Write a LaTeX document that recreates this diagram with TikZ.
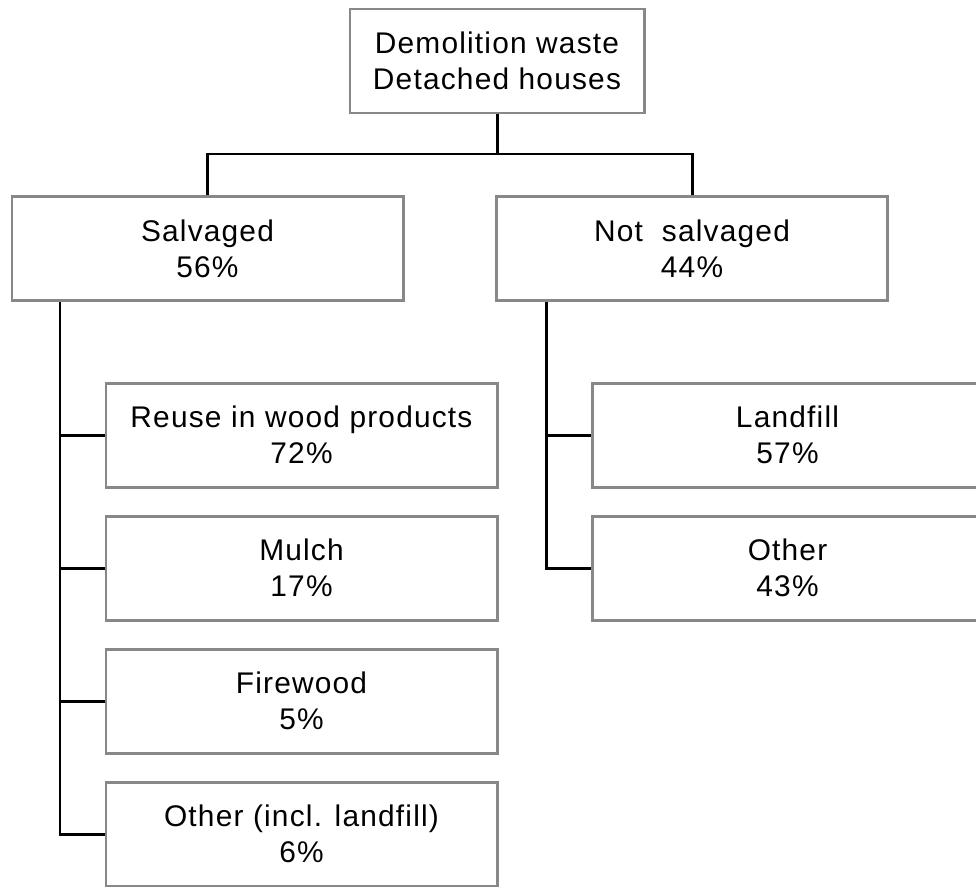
\documentclass[tikz,border=0pt]{standalone}
\usepackage{fontspec}
\setmainfont{Liberation Sans}[LetterSpace=4]
\definecolor{BoxGray}{RGB}{136,136,136}
\usetikzlibrary{positioning}

\begin{document}
\begin{tikzpicture}[
	box/.style={draw=BoxGray, line width=1.7pt, fill=white, minimum width=7.82cm, minimum height=2.08cm, inner sep=0pt, align=center, font=\fontsize{17}{20.5}\selectfont},
	conn/.style={line width=1.7pt}]
	\useasboundingbox (0,0) rectangle (19.52,-17.72);
	\node[box, minimum width=5.88cm] (top) at (9.94,-1.22) {Demolition waste\\Detached houses};
	\node[box] (salv) at (4.15,-4.97) {Salvaged\\56\%};
	\node[box] (nsalv) at (13.84,-4.97) {Not\ \ salvaged\\44\%};
	\foreach \i/\lab in {1/{Reuse in wood products\\72\%}, 2/{Mulch\\17\%}, 3/{Firewood\\5\%}, 4/{Other (incl. landfill)\\6\%}}{
		\node[box] (s\i) at (6.03,{-8.7-2.66*(\i-1)}) {\lab};
	}
	\foreach \i/\lab in {1/{Landfill\\57\%}, 2/{Other\\43\%}}{
		\node[box] (n\i) at (15.75,{-8.7-2.66*(\i-1)}) {\lab};
	}
	% tree lines
	\coordinate (split) at (9.94,-3.08);
	\draw[conn] (top.south) -- (split);
	\draw[conn] (salv.north) |- (split) -| (nsalv.north);
	\coordinate (lspine) at ([xshift=-2.95cm]salv.south);
	\coordinate (rspine) at ([xshift=-2.92cm]nsalv.south);
	\draw[conn] (lspine) |- (s4.west);
	\foreach \i in {1,2,3}{\draw[conn] (lspine |- s\i.west) -- (s\i.west);}
	\draw[conn] (rspine) |- (n2.west);
	\draw[conn] (rspine |- n1.west) -- (n1.west);
\end{tikzpicture}
\end{document}
